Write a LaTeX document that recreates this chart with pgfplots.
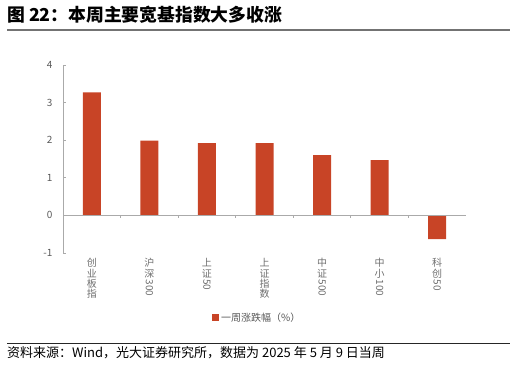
\documentclass[border=0pt]{standalone}
\usepackage{fontspec}
\setmainfont{Noto Sans CJK SC}
\usepackage{graphicx}
\usepackage{pgfplots}
\pgfplotsset{compat=1.18}
\definecolor{barred}{RGB}{200,68,38}
\definecolor{txtgray}{RGB}{89,89,89}
\definecolor{lblgray}{RGB}{110,110,110}
\definecolor{axgray}{RGB}{170,170,170}
\newcommand{\vnum}[1]{\raisebox{0.8em}{\rotatebox{-90}{#1}}}
\begin{document}
\begin{tikzpicture}[x=1pt,y=1pt]
\path[use as bounding box] (0,0) rectangle (516,364);
\node[anchor=west,inner sep=0,font=\fontsize{17.8}{17.8}\selectfont\bfseries] at (7,349) {图 22：本周主要宽基指数大多收涨};
\draw[color=black!55, line width=1.5] (7,334) -- (510,334);
\draw[black!85, line width=0.8] (7,21) -- (510,21);
\node[anchor=west,inner sep=0,font=\fontsize{13}{13}\selectfont] at (7,11) {资料来源：Wind，光大证券研究所，数据为 2025 年 5 月 9 日当周};
\begin{axis}[
  at={(63pt,111pt)}, anchor=south west, scale only axis,
  width=403pt, height=188pt,
  xmin=-0.5, xmax=6.5, ymin=-1, ymax=4,
  ybar, bar width=18pt,
  axis y line=left, axis x line=bottom,
  axis line style={-},
  x axis line style={draw=none},
  y axis line style={axgray, line width=0.8},
  xtick={0,...,6},
  xticklabels={{创\\业\\板\\指},{沪\\深\\\vnum{300}},{上\\证\\\vnum{50}},{上\\证\\指\\数},{中\\证\\\vnum{500}},{中\\小\\\vnum{100}},{科\\创\\\vnum{50}}},
  xtick style={draw=none},
  ytick={-1,0,1,2,3,4},
  ytick style={axgray, line width=0.8},
  tick align=inside, major tick length=3pt,
  /pgf/number format/assume math mode=true,
  tick label style={text=txtgray, font=\fontsize{10}{10.3}\selectfont},
  xticklabel style={align=center, anchor=north, yshift=-2pt, text=lblgray},
  yticklabel style={xshift=-7pt},
  legend style={at={(0.482,-0.345)}, anchor=center, draw=none, fill=none, font=\fontsize{10}{11}\selectfont, text=txtgray},
  legend image code/.code={\fill[barred] (0pt,-3.5pt) rectangle (7pt,3.5pt);},
]
\addplot[fill=barred, draw=none] coordinates {(0,3.27) (1,1.99) (2,1.92) (3,1.92) (4,1.60) (5,1.47) (6,-0.63)};
\addlegendentry{一周涨跌幅（\%）}
\draw[axgray, line width=0.8] (axis cs:-0.5,0) -- (axis cs:6.5,0);
\pgfplotsinvokeforeach{0.5,1.5,2.5,3.5,4.5,5.5}{\draw[axgray, line width=0.8] (axis cs:#1,0) -- ([yshift=-3pt]axis cs:#1,0);}
\end{axis}
\end{tikzpicture}
\end{document}
